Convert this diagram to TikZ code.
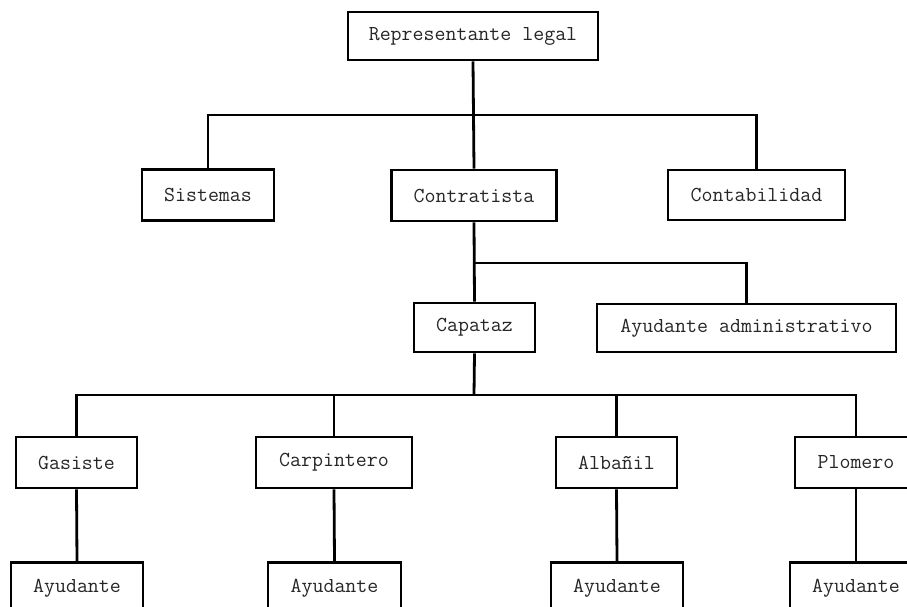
\documentclass[tikz,border=0pt]{standalone}
\usepackage{fontspec}
\begin{document}
\begin{tikzpicture}[x=1pt,y=-1pt,
  orgbox/.style={draw=black, line width=2.8pt, fill=white, inner sep=0pt,
    text=black!85, font=\ttfamily\fontsize{21.3}{24}\selectfont},
  link/.style={draw=black, line width=2.8pt}]
\useasboundingbox (0,0) rectangle (907,607);
\clip (0,0) rectangle (907,607);

% top level
\node[orgbox, minimum width=250, minimum height=48] (rep) at (473,36) {Representante legal};

% second level
\node[orgbox, minimum width=132, minimum height=51] (sis)  at (208,195) {Sistemas};
\node[orgbox, minimum width=165, minimum height=51] (con)  at (474,195.5) {Contratista};
\node[orgbox, minimum width=177, minimum height=50] (cont) at (756.5,195) {Contabilidad};

% third level
\node[orgbox, minimum width=121, minimum height=49] (cap) at (474.5,327.5) {Capataz};
\node[orgbox, minimum width=299, minimum height=48] (aya) at (746.5,328) {Ayudante administrativo};

% trades
\node[orgbox, minimum width=121, minimum height=51] (gas) at (76.5,462.5) {Gasiste};
\node[orgbox, minimum width=156, minimum height=51] (car) at (334,462.5) {Carpintero};
\node[orgbox, minimum width=121, minimum height=51] (alb) at (616.5,462.5) {Albañil};
\node[orgbox, minimum width=122, minimum height=51] (plo) at (856,462.5) {Plomero};

% helpers
\node[orgbox, minimum width=132, minimum height=51] (ay1) at (77,588) {Ayudante};
\node[orgbox, minimum width=133, minimum height=51] (ay2) at (334.5,588) {Ayudante};
\node[orgbox, minimum width=132, minimum height=51] (ay3) at (617,588) {Ayudante};
\node[orgbox, minimum width=132, minimum height=51] (ay4) at (856,588) {Ayudante};

% bus points
\coordinate (b1) at (474,115);
\coordinate (b2) at (474,263);
\coordinate (b3) at (474,395);

% connectors
\draw[link] (rep.south) -- (con.north);
\draw[link] (sis.north) |- (b1) -| (cont.north);
\draw[link] (con.south) -- (cap.north);
\draw[link] (b2) -| (aya.north);
\draw[link] (cap.south) -- (b3);
\draw[link] (gas.north) |- (b3) -| (plo.north);
\draw[link] (car.north) -- (car.north |- b3);
\draw[link] (alb.north) -- (alb.north |- b3);
\draw[link] (gas.south) -- (ay1.north);
\draw[link] (car.south) -- (ay2.north);
\draw[link] (alb.south) -- (ay3.north);
\draw[link] (plo.south) -- (ay4.north);
\end{tikzpicture}
\end{document}
